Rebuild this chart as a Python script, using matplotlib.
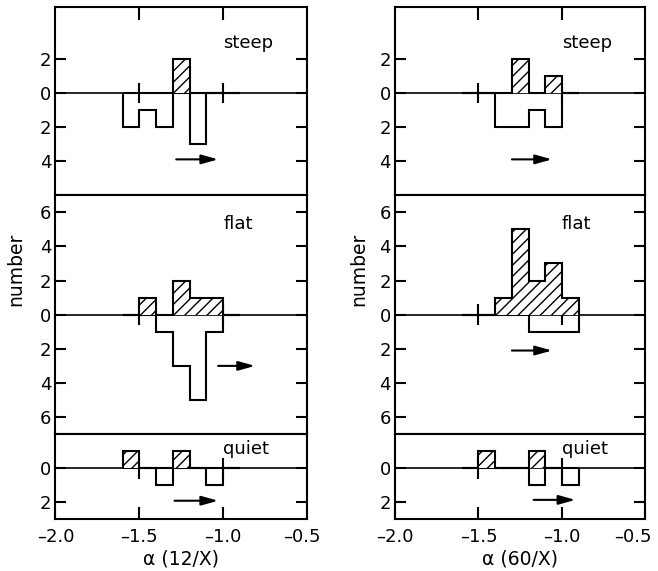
import numpy as np
import matplotlib
matplotlib.use("Agg")
import matplotlib.pyplot as plt
from matplotlib.transforms import ScaledTranslation

plt.rcParams['font.family'] = ['DejaVu Sans']
plt.rcParams['hatch.linewidth'] = 1.0

# spectral index bins, 0.1 wide
bin_edges = [-1.6, -1.5, -1.4, -1.3, -1.2, -1.1, -1.0, -0.9]
panel_names = ["steep", "flat", "quiet"]

# alpha(12/X): detections (hatched, up) and limits (open, down)
det_12 = {
    "steep": [0, 0, 0, 2, 0, 0, 0],
    "flat":  [0, 1, 0, 2, 1, 1, 0],
    "quiet": [1, 0, 0, 1, 0, 0, 0],
}
lim_12 = {
    "steep": [2, 1, 2, 0, 3, 0, 0],
    "flat":  [0, 0, 1, 3, 5, 1, 0],
    "quiet": [0, 0, 1, 0, 0, 1, 0],
}

# alpha(60/X)
det_60 = {
    "steep": [0, 0, 0, 2, 0, 1, 0],
    "flat":  [0, 0, 1, 5, 2, 3, 1],
    "quiet": [0, 1, 0, 0, 1, 0, 0],
}
lim_60 = {
    "steep": [0, 0, 2, 2, 1, 2, 0],
    "flat":  [0, 0, 0, 0, 1, 1, 1],
    "quiet": [0, 0, 0, 0, 1, 0, 1],
}

# arrows showing direction of limits: (x start, x end, depth below zero)
arrows_12 = {"steep": (-1.28, -1.03, 3.9), "flat": (-1.03, -0.81, 3.0), "quiet": (-1.29, -1.03, 1.9)}
arrows_60 = {"steep": (-1.30, -1.06, 3.9), "flat": (-1.30, -1.06, 2.1), "quiet": (-1.17, -0.92, 1.85)}

ylims = {"steep": (-6, 5), "flat": (-7, 7), "quiet": (-3, 2)}
yticks = {"steep": [2, 0, -2, -4], "flat": [6, 4, 2, 0, -2, -4, -6], "quiet": [0, -2]}
label_pos = {"steep": 2.9, "flat": 5.3, "quiet": 1.15}
xtick_vals = [-2.0, -1.5, -1.0, -0.5]
xtick_text = ["\u20132.0", "\u20131.5", "\u20131.0", "\u20130.5"]

fig = plt.figure(figsize=(6.58, 5.71), dpi=100)


def draw_column(left, right, det, lim, arrows, xlabel, ylab_x, last_shift):
    gs = fig.add_gridspec(3, 1, left=left, right=right, top=0.9869, bottom=0.0902,
                          height_ratios=[11, 14, 5], hspace=0)
    axes = []
    for i, name in enumerate(panel_names):
        ax = fig.add_subplot(gs[i])
        ax.set_xlim(-2.0, -0.5)
        ax.set_ylim(*ylims[name])
        for s in ax.spines.values():
            s.set_linewidth(1.5)
        ax.axhline(0, color="black", lw=1.2, zorder=1)
        ax.vlines([-1.5, -1.0], -0.6, 0.6, color="black", lw=1.5, zorder=1)

        ax.stairs(-np.array(lim[name]), bin_edges, baseline=0, fill=False,
                  edgecolor="black", lw=1.5, zorder=2)
        ax.stairs(det[name], bin_edges, baseline=0, fill=True, facecolor="white",
                  edgecolor="black", hatch="///", lw=1.5, zorder=3)

        x0, x1, depth = arrows[name]
        ax.annotate("", xy=(x1, -depth), xytext=(x0, -depth),
                    arrowprops=dict(arrowstyle="-|>,head_length=0.5,head_width=0.14",
                                    mutation_scale=20, lw=1.5, color="black",
                                    shrinkA=0, shrinkB=0))
        ax.text(-1.0, label_pos[name], name, fontsize=13, ha="left", va="center")

        ax.set_yticks(yticks[name])
        ax.set_yticklabels([str(abs(v)) for v in yticks[name]])
        ax.tick_params(axis="y", direction="in", left=True, right=True, length=8,
                       width=1.5, labelsize=13, pad=3)
        if name == "steep":
            ax.set_xticks([-1.5, -1.0])
            ax.tick_params(axis="x", direction="in", bottom=False, top=True,
                           labelbottom=False, length=9, width=1.5)
        elif name == "flat":
            ax.set_xticks([])
            ax.set_ylabel("number", fontsize=13.5)
            ax.yaxis.set_label_coords(ylab_x, 0.69)
        else:
            ax.set_xticks(xtick_vals)
            ax.set_xticklabels(xtick_text)
            ax.tick_params(axis="x", direction="in", length=9, width=1.5,
                           labelsize=13, pad=6)
            # pull the end label inward so it stays on the page
            lab = ax.get_xticklabels()[-1]
            lab.set_transform(lab.get_transform() +
                              ScaledTranslation(last_shift / 72, 0, fig.dpi_scale_trans))
            ax.set_xlabel(xlabel, fontsize=13.5, labelpad=3)
        axes.append(ax)
    return axes


draw_column(0.0843, 0.4666, det_12, lim_12, arrows_12, "\u03b1 (12/X)", -0.121, -4)
draw_column(0.6003, 0.9810, det_60, lim_60, arrows_60, "\u03b1 (60/X)", -0.107, -9)

fig.savefig("out.png", dpi=100)
